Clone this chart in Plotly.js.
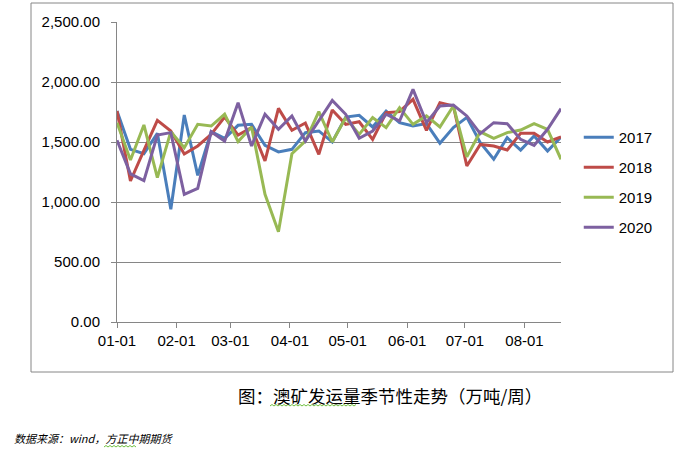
<!DOCTYPE html>
<html>
<head>
<meta charset="utf-8">
<script src="https://cdn.plot.ly/plotly-3.0.1.min.js"></script>
<style>
html,body{margin:0;padding:0;background:#fff;}
#chart{width:690px;height:450px;}
</style>
</head>
<body>
<div id="chart"></div>
<script>
const weeks = ['2021-01-01','2021-01-08','2021-01-15','2021-01-22','2021-01-29',
  '2021-02-05','2021-02-12','2021-02-19','2021-02-26',
  '2021-03-05','2021-03-12','2021-03-19','2021-03-26',
  '2021-04-02','2021-04-09','2021-04-16','2021-04-23','2021-04-30',
  '2021-05-07','2021-05-14','2021-05-21','2021-05-28',
  '2021-06-04','2021-06-11','2021-06-18','2021-06-25',
  '2021-07-02','2021-07-09','2021-07-16','2021-07-23','2021-07-30',
  '2021-08-06','2021-08-13','2021-08-20'];

const seriesNames = ['2017','2018','2019','2020'];

const y2017 = [1758,1439,1403,1572,939,1725,1222,1586,1530,1639,1647,1472,1417,1439,1578,1592,1500,
  1708,1722,1625,1758,1661,1633,1653,1490,1620,1705,1494,1356,1536,1433,1550,1425,1542];
const y2018 = [1758,1175,1430,1680,1592,1400,1467,1564,1708,1558,1620,1342,1780,1597,1658,1397,1767,
  1647,1669,1522,1744,1753,1856,1597,1828,1800,1300,1480,1467,1433,1572,1572,1500,1542];
const y2019 = [1661,1350,1642,1203,1586,1453,1647,1633,1731,1503,1625,1064,753,1403,1508,1753,1500,
  1703,1564,1703,1620,1786,1647,1717,1625,1800,1376,1585,1531,1578,1600,1653,1606,1356];
const y2020 = [1514,1235,1178,1558,1578,1064,1114,1586,1508,1828,1467,1731,1606,1717,1508,1675,1847,
  1731,1531,1592,1731,1675,1939,1661,1800,1808,1717,1570,1661,1653,1522,1472,1606,1778];

const yTickVals = [0,500,1000,1500,2000,2500];
const yTickText = ['0.00','500.00','1,000.00','1,500.00','2,000.00','2,500.00'];

const captionText = '图：澳矿发运量季节性走势（万吨/周）';
const sourceText = '数据来源：wind，方正中期期货';

const colors = ['#4A7EBB','#BE4B48','#98B954','#7D60A0'];
const allY = [y2017,y2018,y2019,y2020];

const traces = allY.map((ys,i)=>({
  type:'scatter', mode:'lines', name:seriesNames[i],
  x:weeks, y:ys,
  line:{color:colors[i], width:3},
  legendgroup:'g'+i
}));

const numFont = {family:'"Liberation Sans", Arial, sans-serif', size:15, color:'#000'};

// pixel -> paper helpers (plot area: x 117..561, y 22..322)
const px = v => (v-117)/444;
const py = v => (322-v)/300;

// decorative wavy spell-check underline (green)
function wavy(x0, x1, y){
  let d = 'M '+px(x0)+' '+py(y);
  let up = true;
  for(let x=x0+2; x<=x1; x+=2){
    d += ' L '+px(x)+' '+py(y + (up ? -1.5 : 0));
    up = !up;
  }
  return {type:'path', xref:'paper', yref:'paper', path:d, line:{color:'#6FBF40', width:1}};
}

const layout = {
  width:690, height:450,
  margin:{l:117, r:129, t:22, b:128},
  paper_bgcolor:'#fff', plot_bgcolor:'#fff',
  showlegend:true,
  legend:{x:1.04, xanchor:'left', y:0.670, yanchor:'top',
    font:numFont, traceorder:'grouped', tracegroupgap:7.5, bgcolor:'rgba(0,0,0,0)'},
  xaxis:{type:'date', range:['2021-01-01','2021-08-20'],
    tick0:'2021-01-01', dtick:'M1', tickformat:'%m-%d',
    ticks:'outside', ticklen:5, tickcolor:'#868686',
    showline:true, linecolor:'#868686', linewidth:1,
    showgrid:false, zeroline:false, tickfont:numFont, fixedrange:true},
  yaxis:{range:[0,2500], tickvals:yTickVals, ticktext:yTickText,
    ticks:'outside', ticklen:5, tickcolor:'#868686', ticklabelstandoff:8,
    showline:true, linecolor:'#868686', linewidth:1,
    showgrid:true, gridcolor:'#868686', gridwidth:1, zeroline:false,
    tickfont:numFont, fixedrange:true},
  shapes:[
    {type:'rect', xref:'paper', yref:'paper',
     x0:px(31), x1:px(673), y0:py(372), y1:py(3),
     line:{color:'#868686', width:1}, fillcolor:'rgba(0,0,0,0)', layer:'below'},
    wavy(270, 357, 406),
    wavy(104, 137, 447)
  ],
  annotations:[
    {text:captionText, xref:'paper', yref:'paper', x:px(390), y:py(395),
     xanchor:'center', yanchor:'middle', showarrow:false,
     font:{family:'"Noto Sans CJK SC", sans-serif', size:17.5, color:'#000'}},
    {text:'<i>'+sourceText+'</i>', xref:'paper', yref:'paper', x:px(12), y:py(438),
     xanchor:'left', yanchor:'middle', showarrow:false,
     font:{family:'"Noto Sans CJK SC", sans-serif', size:11, color:'#000'}}
  ]
};

Plotly.newPlot('chart', traces, layout, {displayModeBar:false, staticPlot:true});
</script>
</body>
</html>
